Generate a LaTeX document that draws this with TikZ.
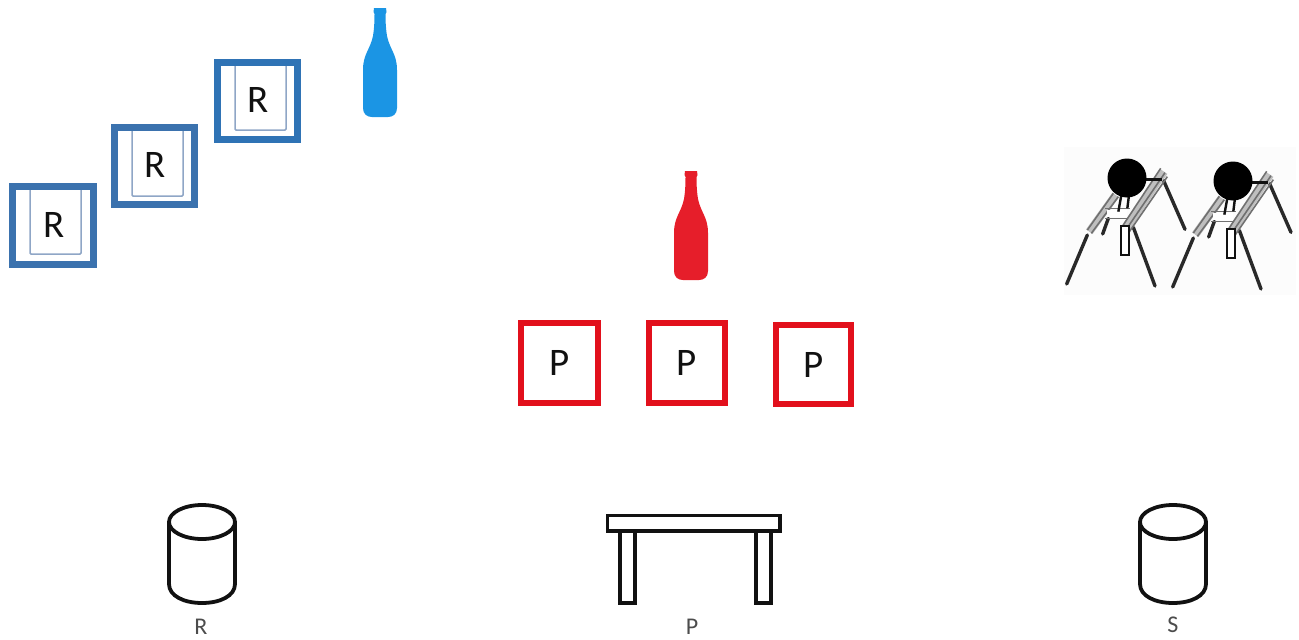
\documentclass[tikz,border=0pt]{standalone}
\usepackage{fontspec}
\setmainfont{Carlito}
\definecolor{bframeA}{HTML}{2F73B5}
\definecolor{bframeB}{HTML}{3B72AE}
\definecolor{binner}{HTML}{8FA6C6}
\definecolor{bbottle}{HTML}{1B95E4}
\definecolor{rframe}{HTML}{E2101C}
\definecolor{rbottle}{HTML}{E61E2A}
\definecolor{inkblack}{HTML}{111111}
\definecolor{offwhite}{HTML}{FCFCFC}
\tikzset{
  bluebox/.style={draw=#1,line width=7pt},
  innerbox/.style={draw=binner,line width=1.5pt,rounded corners=1pt},
  redbox/.style={draw=rframe,line width=6pt},
  boxlabel/.style={font=\fontsize{39}{39}\selectfont,text=inkblack,inner sep=0pt},
  smalllabel/.style={font=\fontsize{24}{24}\selectfont,text=black!70,inner sep=0pt},
  icon/.style={draw=inkblack,line width=3.8pt,line join=round},
  tableicon/.style={draw=inkblack,line width=3.8pt,line join=miter},
  leg/.style={draw=inkblack!90,line width=3.4pt,line cap=round},
  rail/.style={draw=inkblack!60,line width=1.6pt},
  railband/.style={draw=black!25,line width=8pt},
  strut/.style={draw=inkblack,line width=2.4pt},
}
\newcommand{\bottlepath}[3]{%
  \fill[#3,shift={(#1,#2)}]
    (-6,0) -- (6,0) -- (6.5,4) -- (5.5,6) .. controls (5.5,15) and (6,22) .. (7,28)
    .. controls (10,42) and (17,46) .. (17,62)
    -- (17,100) .. controls (17,106) and (13,109) .. (8,109)
    -- (-8,109) .. controls (-13,109) and (-17,106) .. (-17,100)
    -- (-17,62) .. controls (-17,46) and (-10,42) .. (-7,28)
    .. controls (-6,22) and (-5.5,15) .. (-5.5,6) -- (-6.5,4) -- cycle;}
\newcommand{\drum}[1]{%
  \begin{scope}[shift={(#1,0)}]
    \draw[icon] (-33,522) -- (-33,584) .. controls (-33,596) and (-18,603) .. (0,603)
      .. controls (18,603) and (33,596) .. (33,584) -- (33,522);
    \draw[icon] (0,522) ellipse [x radius=33,y radius=17];
  \end{scope}}
\newcommand{\stand}[2]{%
  \begin{scope}[shift={(#1,#2)},xscale=1/3,yscale=1/3]
    \draw[leg] (50,432) -- (112,285);
    \draw[leg] (340,120) -- (405,268);
    \draw[leg] (250,262) -- (315,438);
    \draw[leg] (158,282) -- (175,235);
    \draw[railband] (118,275) -- (197,165);
    \draw[railband] (226,268) -- (342,95);
    \draw[rail] (112,270) -- (190,160) (124,280) -- (205,170);
    \draw[rail] (215,262) -- (332,85) (226,272) -- (345,98) (238,275) -- (352,110);
    \draw[rail] (165,205) -- (240,205) (165,235) -- (232,235);
    \fill[white] (170,210) rectangle (232,231);
    \draw[inkblack,line width=2pt,fill=white] (212,258) rectangle (238,345);
    \draw[strut] (215,160) -- (205,215) (237,165) -- (232,205);
    \draw[strut] (285,118) -- (335,118);
  \end{scope}}
\begin{document}
\begin{tikzpicture}[x=1pt,y=-1pt]
\useasboundingbox (0,0) rectangle (1299,640);
% blue R boxes
\draw[innerbox] (30,190) -- (30,254) -- (81,254) -- (81,190);
\draw[innerbox] (132,130) -- (132,196) -- (183,196) -- (183,130);
\draw[innerbox] (235,66) -- (235,130) -- (286,130) -- (286,66);
\draw[bluebox=bframeB] (12.5,186.5) rectangle (93.5,264.5);
\draw[bluebox=bframeB] (114.5,127.5) rectangle (194.5,204.5);
\draw[bluebox=bframeA] (217.5,62.5) rectangle (297.5,139.5);
\node[boxlabel] (r1) at (54,225) {R};
\node[boxlabel] (r2) at (155,165) {R};
\node[boxlabel] (r3) at (258,100) {R};
\bottlepath{380}{8}{bbottle}
% red
\bottlepath{691}{171}{rbottle}
\draw[redbox] (521,323) rectangle (598,403);
\draw[redbox] (649,323) rectangle (725,403);
\draw[redbox] (776,325) rectangle (851,404);
\node[boxlabel] (p1) at (560,363) {P};
\node[boxlabel] (p2) at (687,363) {P};
\node[boxlabel] (p3) at (814,365) {P};
% stands
\fill[offwhite] (1064,147) rectangle (1296,295);
\stand{1050}{140}
\stand{1156}{143}
\fill[black] (1127,178) circle [radius=19.5];
\fill[black] (1233,181) circle [radius=19.5];
% bottom icons
\drum{202}
\drum{1173}
\draw[tableicon] (607.5,515.5) rectangle (780,531);
\draw[tableicon] (620,531) rectangle (635,603);
\draw[tableicon] (756,531) rectangle (771,603);
\node[smalllabel] (lr) at (201,627) {R};
\node[smalllabel] (lp) at (692,627) {P};
\node[smalllabel] (ls) at (1173,625) {S};
\end{tikzpicture}
\end{document}
